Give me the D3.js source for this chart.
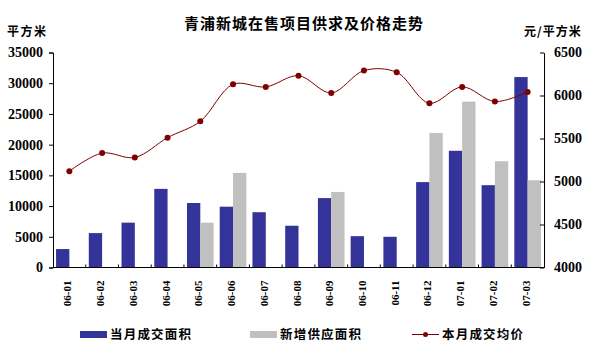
<!DOCTYPE html>
<html>
<head>
<meta charset="utf-8">
<script src="https://cdn.jsdelivr.net/npm/d3@7"></script>
<style>
  body { margin: 0; background: #fff; }
  svg { display: block; }
  .cn { font-family: "Noto Sans CJK SC", sans-serif; font-weight: bold; }
  .num { font-family: "Liberation Serif", serif; font-weight: bold; }
</style>
</head>
<body>
<div id="chart"></div>
<script>
const months = ["06-01", "06-02", "06-03", "06-04", "06-05", "06-06", "06-07", "06-08", "06-09", "06-10", "06-11", "06-12", "07-01", "07-02", "07-03"];
const dealArea = [3000, 5600, 7300, 12800, 10500, 9900, 9000, 6800, 11300, 5100, 5000, 13900, 19000, 13400, 31000];
const newSupply = [0, 0, 0, 0, 7300, 15400, 0, 0, 12300, 0, 0, 21900, 27000, 17300, 14200];
const avgPrice = [5120, 5330, 5280, 5510, 5700, 6130, 6100, 6230, 6030, 6290, 6270, 5910, 6100, 5930, 6040];
const leftTicks = [0, 5000, 10000, 15000, 20000, 25000, 30000, 35000];
const rightTicks = [4000, 4500, 5000, 5500, 6000, 6500];
const seriesNames = ["当月成交面积", "新增供应面积", "本月成交均价"];

const width = 598, height = 351;
const plotL = 53, plotR = 544, plotT = 52.5, plotB = 267.5;
const colBlue = "#333399", colGrey = "#c0c0c0", colLine = "#800000";

const svg = d3.select("#chart").append("svg")
    .attr("width", width)
    .attr("height", height);

const x = d3.scaleBand().domain(months).range([plotL, plotR]).padding(0);
const x1 = d3.scaleBand().domain([0, 1]).range([0, x.bandwidth()]).paddingOuter(0.23).paddingInner(0);
const yL = d3.scaleLinear().domain([0, 35000]).range([plotB, plotT]);
const yR = d3.scaleLinear().domain([4000, 6500]).range([plotB, plotT]);

// title + units
svg.append("text").attr("class", "cn")
    .attr("x", 304).attr("y", 29)
    .attr("text-anchor", "middle")
    .style("font-size", "15px")
    .style("letter-spacing", "1px")
    .text("青浦新城在售项目供求及价格走势");
svg.append("text").attr("class", "cn")
    .attr("x", 7).attr("y", 36)
    .style("font-size", "12px")
    .style("letter-spacing", "1.5px")
    .text("平方米");
svg.append("text").attr("class", "cn")
    .attr("x", 524).attr("y", 36)
    .style("font-size", "12px")
    .style("letter-spacing", "1px")
    .text("元/平方米");

// bars
const groups = svg.append("g").selectAll("g")
    .data(months)
    .join("g")
    .attr("transform", d => `translate(${x(d)},0)`);

groups.append("rect")
    .attr("x", x1(0))
    .attr("width", x1.bandwidth())
    .attr("y", (d, i) => yL(dealArea[i]))
    .attr("height", (d, i) => plotB - yL(dealArea[i]))
    .attr("fill", colBlue);

groups.append("rect")
    .attr("x", x1(1))
    .attr("width", x1.bandwidth())
    .attr("y", (d, i) => yL(newSupply[i]))
    .attr("height", (d, i) => plotB - yL(newSupply[i]))
    .attr("fill", colGrey);

// axes
const gL = svg.append("g")
    .attr("transform", `translate(${plotL},0)`)
    .call(d3.axisLeft(yL).tickValues(leftTicks).tickSize(4).tickPadding(6).tickFormat(d3.format("d")));
const gR = svg.append("g")
    .attr("transform", `translate(${plotR},0)`)
    .call(d3.axisRight(yR).tickValues(rightTicks).tickSizeInner(-4).tickSizeOuter(0).tickPadding(10).tickFormat(d3.format("d")));
[gL, gR].forEach(g => {
    g.selectAll("text").attr("class", "num").style("font-size", "14px").attr("fill", "#000");
    g.select(".domain").attr("stroke", "#000");
});

// bottom axis: ticks at category boundaries
const gB = svg.append("g");
gB.append("line")
    .attr("x1", plotL).attr("x2", plotR)
    .attr("y1", plotB).attr("y2", plotB)
    .attr("stroke", "#000");
gB.selectAll("line.tk")
    .data(months.slice(1))
    .join("line")
    .attr("class", "tk")
    .attr("x1", d => x(d)).attr("x2", d => x(d))
    .attr("y1", plotB).attr("y2", plotB - 3)
    .attr("stroke", "#000");
gB.selectAll("text")
    .data(months)
    .join("text")
    .attr("class", "num")
    .attr("transform", d => `translate(${x(d) + x.bandwidth() / 2 + 2},${plotB + 13}) rotate(-90)`)
    .attr("text-anchor", "end")
    .style("font-size", "11px")
    .text(d => d);

// price line
const line = d3.line()
    .x((d, i) => x(months[i]) + x.bandwidth() / 2)
    .y(d => yR(d))
    .curve(d3.curveCatmullRom.alpha(0.5));

svg.append("path")
    .datum(avgPrice)
    .attr("d", line)
    .attr("fill", "none")
    .attr("stroke", colLine)
    .attr("stroke-width", 1);

svg.append("g").selectAll("circle")
    .data(avgPrice)
    .join("circle")
    .attr("cx", (d, i) => x(months[i]) + x.bandwidth() / 2)
    .attr("cy", d => yR(d))
    .attr("r", 3)
    .attr("fill", colLine);

// legend
const legend = svg.append("g").attr("transform", "translate(0,334.5)");
const legendX = [80, 250, 412];
legend.append("rect").attr("x", legendX[0]).attr("y", -3.5).attr("width", 27).attr("height", 7).attr("fill", colBlue);
legend.append("rect").attr("x", legendX[1]).attr("y", -3.5).attr("width", 27).attr("height", 7).attr("fill", colGrey);
legend.append("line").attr("x1", legendX[2]).attr("x2", legendX[2] + 27).attr("y1", 0).attr("y2", 0).attr("stroke", colLine);
legend.append("circle").attr("cx", legendX[2] + 13.5).attr("cy", 0).attr("r", 2.5).attr("fill", colLine);
legend.selectAll("text.lg")
    .data(seriesNames)
    .join("text")
    .attr("class", "lg cn")
    .attr("x", (d, i) => legendX[i] + 30)
    .attr("y", 4.5)
    .style("font-size", "12.5px")
    .style("letter-spacing", "1.2px")
    .text(d => d);
</script>
</body>
</html>
